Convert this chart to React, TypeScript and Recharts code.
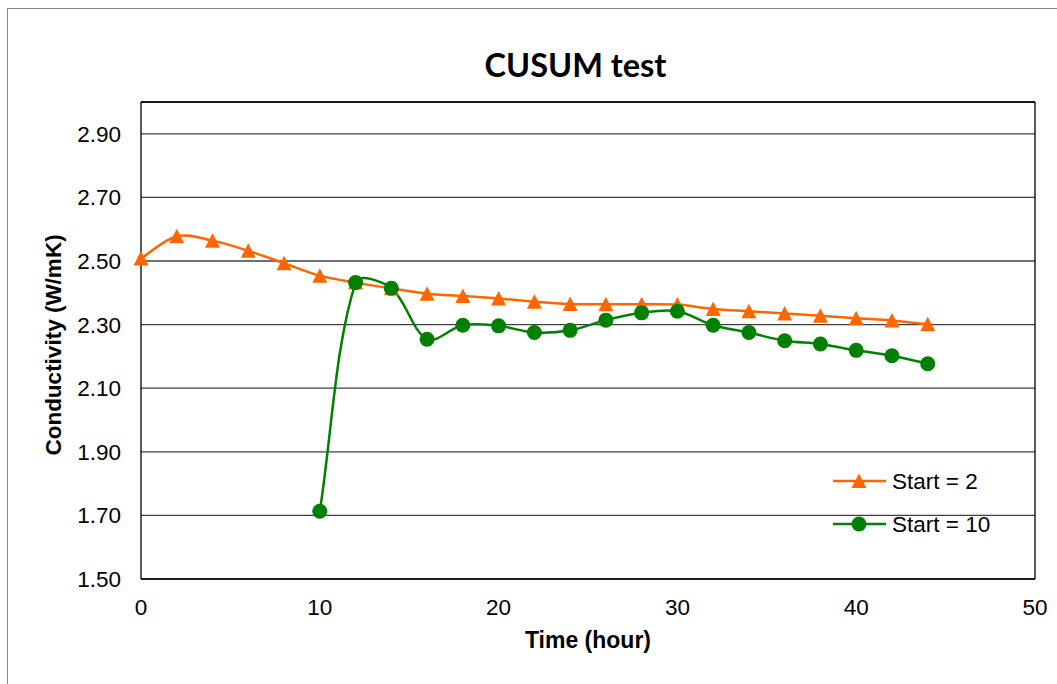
import React from "react";
import { LineChart, Line, XAxis, YAxis, CartesianGrid, ReferenceLine } from "recharts";

const hours = [0, 2, 4, 6, 8, 10, 12, 14, 16, 18, 20, 22, 24, 26, 28, 30, 32, 34, 36, 38, 40, 42, 44];
const start2 = [
  2.508, 2.578, 2.564, 2.532, 2.493, 2.454, 2.432, 2.414, 2.397, 2.39, 2.382, 2.372,
  2.365, 2.364, 2.364, 2.363, 2.349, 2.342, 2.335, 2.328, 2.32, 2.313, 2.301,
];
const start10 = [
  null, null, null, null, null, 1.713, 2.432, 2.414, 2.254, 2.298, 2.296, 2.275,
  2.282, 2.314, 2.337, 2.342, 2.298, 2.275, 2.249, 2.239, 2.219, 2.202, 2.177,
];
const xTicks = [0, 10, 20, 30, 40, 50];
const yTicks = [1.5, 1.7, 1.9, 2.1, 2.3, 2.5, 2.7, 2.9];

const data = hours.map((h, i) => ({ hour: h, start2: start2[i], start10: start10[i] }));

const ORANGE = "#FF6600";
const GREEN = "#008000";
const FONT = "'Liberation Sans', Arial, sans-serif";

// smoothed line similar to the spreadsheet "smoothed line" option
const smoothCurve = (context: any) => {
  let pts: number[][] = [];
  return {
    areaStart() {},
    areaEnd() {},
    lineStart() {
      pts = [];
    },
    point(x: number, y: number) {
      pts.push([+x, +y]);
    },
    lineEnd() {
      const n = pts.length;
      if (!n) return;
      context.moveTo(pts[0][0], pts[0][1]);
      const dist = (a: number[], b: number[]) => Math.hypot(b[0] - a[0], b[1] - a[1]);
      for (let i = 0; i < n - 1; i++) {
        const p0 = pts[Math.max(i - 1, 0)];
        const p1 = pts[i];
        const p2 = pts[i + 1];
        const p3 = pts[Math.min(i + 2, n - 1)];
        const d01 = dist(p0, p1);
        const d12 = dist(p1, p2);
        const d23 = dist(p2, p3);
        const f1 = d12 / (d01 + d12 || 1) / 3;
        const f2 = d12 / (d12 + d23 || 1) / 3;
        context.bezierCurveTo(
          p1[0] + (p2[0] - p0[0]) * f1,
          p1[1] + (p2[1] - p0[1]) * f1,
          p2[0] - (p3[0] - p1[0]) * f2,
          p2[1] - (p3[1] - p1[1]) * f2,
          p2[0],
          p2[1]
        );
      }
    },
  };
};

const Triangle = (props: any) => {
  const { cx, cy, index } = props;
  if (cx == null || cy == null || isNaN(cy)) return <g key={index} />;
  return (
    <polygon
      key={index}
      points={`${cx},${cy - 7.5} ${cx - 7.5},${cy + 7} ${cx + 7.5},${cy + 7}`}
      fill={ORANGE}
    />
  );
};

const Circle = (props: any) => {
  const { cx, cy, index } = props;
  if (cx == null || cy == null || isNaN(cy)) return <g key={index} />;
  return <circle key={index} cx={cx} cy={cy} r={7.5} fill={GREEN} />;
};

export default function App() {
  return (
    <div>
      <div
        style={{
          position: "fixed",
          left: 7,
          top: 8,
          width: 1100,
          height: 720,
          border: "1px solid #868686",
          background: "#fff",
        }}
      />
      <div style={{ position: "fixed", left: 0, top: 0 }}>
        <LineChart
          width={1057}
          height={684}
          data={data}
          margin={{ top: 102, right: 22, left: 81, bottom: 75 }}
        >
          <CartesianGrid vertical={false} stroke="#404040" strokeWidth={1.3} />
          <XAxis
            dataKey="hour"
            type="number"
            domain={[0, 50]}
            ticks={xTicks}
            height={30}
            tickLine={false}
            axisLine={{ stroke: "#000", strokeWidth: 1.3 }}
            tickMargin={14}
            tick={{ fill: "#000", fontSize: 22.5, fontFamily: FONT }}
          />
          <YAxis
            type="number"
            domain={[1.5, 3.0]}
            ticks={yTicks}
            width={60}
            tickLine={false}
            axisLine={{ stroke: "#000", strokeWidth: 1.3 }}
            tickMargin={14}
            tickFormatter={(v: number) => v.toFixed(2)}
            tick={{ fill: "#000", fontSize: 22.5, fontFamily: FONT }}
            allowDataOverflow
          />
          <ReferenceLine y={3.0} stroke="#000" strokeWidth={1.3} />
          <ReferenceLine x={50} stroke="#000" strokeWidth={1.3} />
          <Line
            dataKey="start2"
            type={smoothCurve as any}
            stroke={ORANGE}
            strokeWidth={2.5}
            dot={<Triangle />}
            isAnimationActive={false}
          />
          <Line
            dataKey="start10"
            type={smoothCurve as any}
            stroke={GREEN}
            strokeWidth={2.5}
            dot={<Circle />}
            isAnimationActive={false}
          />
        </LineChart>
      </div>
      <svg
        width={1057}
        height={684}
        style={{ position: "fixed", left: 0, top: 0, pointerEvents: "none" }}
      >
        <text
          x={575.5}
          y={77}
          textAnchor="middle"
          fontFamily="Lato, 'Open Sans', sans-serif"
          fontWeight="bold"
          fontSize={32.5}
          fill="#000"
        >
          CUSUM test
        </text>
        <text
          x={588}
          y={648}
          textAnchor="middle"
          fontFamily={FONT}
          fontWeight="bold"
          fontSize={23}
          fill="#000"
        >
          Time (hour)
        </text>
        <text
          x={61}
          y={345}
          transform="rotate(-90 61 345)"
          textAnchor="middle"
          fontFamily={FONT}
          fontWeight="bold"
          fontSize={22.5}
          fill="#000"
        >
          Conductivity (W/mK)
        </text>
        <line x1={833} y1={481} x2={886} y2={481} stroke={ORANGE} strokeWidth={2.5} />
        <polygon points="859,473.5 851.5,488 866.5,488" fill={ORANGE} />
        <text x={892} y={489} fontFamily={FONT} fontSize={22.5} fill="#000">
          Start = 2
        </text>
        <line x1={833} y1={524} x2={886} y2={524} stroke={GREEN} strokeWidth={2.5} />
        <circle cx={859} cy={524} r={7.5} fill={GREEN} />
        <text x={892} y={532} fontFamily={FONT} fontSize={22.5} fill="#000">
          Start = 10
        </text>
      </svg>
    </div>
  );
}
